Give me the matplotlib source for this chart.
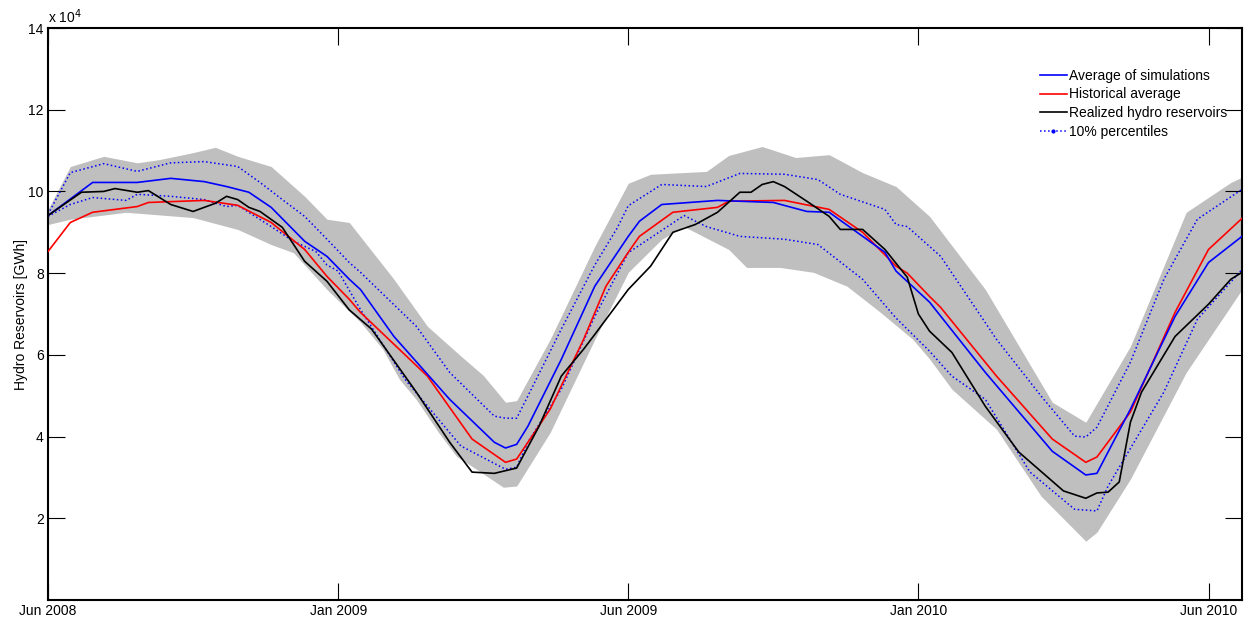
import matplotlib
matplotlib.use("Agg")
import matplotlib.pyplot as plt
from matplotlib.lines import Line2D
import numpy as np

plt.rcParams['font.family'] = ['Liberation Sans', 'DejaVu Sans']

# values in units of 1e4 GWh, x in weeks from Jun 2008
tick_weeks = [0, 26, 52, 78, 104]
tick_labels = ["Jun 2008", "Jan 2009", "Jun 2009", "Jan 2010", "Jun 2010"]

band_up_w = [0, 2, 5, 8, 10, 13, 15, 17, 20, 23, 25, 27, 31, 34, 37, 39, 41, 42, 45, 49, 52,
             54, 59, 61, 64, 67, 70, 73, 76, 79, 84, 90, 93, 97, 102, 106, 107]
band_up = [9.56, 10.61, 10.86, 10.7, 10.78, 10.95, 11.08, 10.86, 10.61, 9.88, 9.32, 9.24, 7.85,
           6.7, 5.97, 5.5, 4.84, 4.88, 6.38, 8.66, 10.2, 10.42, 10.49, 10.88, 11.1, 10.83, 10.9,
           10.46, 10.12, 9.39, 7.6, 4.84, 4.35, 6.21, 9.49, 10.22, 10.35]
band_lo_w = [0, 2, 7, 13, 17, 20, 22, 25, 28, 30, 31.5, 33, 35, 36.6, 38.4, 40.8, 42, 45, 49,
             52, 55, 57, 61, 62.6, 65.6, 68.6, 71.6, 74.6, 77.5, 79, 81, 85, 89, 93, 94, 97,
             102, 107]
band_lo = [9.19, 9.32, 9.49, 9.36, 9.07, 8.7, 8.5, 7.6, 6.8, 6.14, 5.4, 4.91, 4.1, 3.52, 3.2,
           2.76, 2.79, 4.1, 6.38, 8.02, 8.83, 9.14, 8.58, 8.14, 8.14, 8.02, 7.68, 7.04, 6.38,
           5.9, 5.16, 4.18, 2.54, 1.44, 1.66, 2.96, 5.57, 7.6]

avg_w = [0, 4, 8, 11, 14, 16, 18, 20, 23, 25, 27, 28, 31, 36, 40, 41, 42, 43, 46, 49, 52, 53,
         55, 60, 65, 68, 70, 75, 76, 79, 84, 90, 93, 94, 97, 101, 104, 107]
avg = [9.41, 10.22, 10.22, 10.32, 10.24, 10.12, 9.98, 9.61, 8.78, 8.41, 7.85, 7.6, 6.45, 4.91,
       3.86, 3.72, 3.81, 4.25, 5.89, 7.68, 8.9, 9.27, 9.68, 9.78, 9.73, 9.51, 9.49, 8.51, 8.05,
       7.29, 5.57, 3.64, 3.06, 3.1, 4.67, 6.94, 8.26, 8.9]

hist_w = [0, 2, 4, 8, 9, 14, 17, 20, 23, 25, 27, 28, 34, 38, 41, 42, 45, 48, 50, 52, 53, 56, 60,
          61, 66, 70, 73, 76, 77, 79, 80, 85, 90, 93, 94, 97, 101, 104, 107]
hist = [8.53, 9.24, 9.49, 9.63, 9.73, 9.78, 9.66, 9.24, 8.58, 7.92, 7.36, 7.04, 5.48, 3.94, 3.37,
        3.45, 4.67, 6.38, 7.68, 8.51, 8.9, 9.49, 9.61, 9.76, 9.78, 9.56, 9.0, 8.17, 8.0, 7.43,
        7.16, 5.48, 3.94, 3.37, 3.5, 4.6, 7.04, 8.58, 9.34]

real_w = [0, 3, 5, 6, 8, 9, 11, 13, 15, 16, 17, 18, 19, 21, 23, 25, 27, 29, 33, 36, 38, 40, 42,
          44, 46, 48, 49, 52, 54, 56, 58, 60, 62, 63, 64, 65, 66, 68, 70, 71, 73, 75, 77, 78, 79,
          81, 84, 87, 91, 93, 94, 95, 96, 97, 98, 101, 104, 106, 107]
real = [9.41, 9.98, 10.0, 10.07, 9.98, 10.02, 9.68, 9.51, 9.71, 9.88, 9.8, 9.61, 9.51, 9.12, 8.29,
        7.8, 7.1, 6.63, 5.09, 3.86, 3.13, 3.1, 3.23, 4.25, 5.48, 6.14, 6.5, 7.6, 8.17, 9.0, 9.19,
        9.49, 9.98, 9.98, 10.17, 10.24, 10.12, 9.76, 9.39, 9.07, 9.07, 8.58, 7.9, 7.0, 6.58, 6.06,
        4.74, 3.62, 2.67, 2.49, 2.62, 2.64, 2.89, 4.35, 5.09, 6.45, 7.24, 7.85, 8.02]

p_up_w = [0, 2, 5, 8, 11, 14, 17, 19, 21, 23, 25, 27, 28, 33, 36, 40, 41, 42, 43, 46, 49, 51, 52,
          55, 59, 62, 66, 69, 71, 75, 76, 77, 80, 85, 89, 92, 93, 94, 97, 100, 103, 107]
p_up = [9.44, 10.46, 10.68, 10.49, 10.7, 10.73, 10.61, 10.22, 9.8, 9.39, 8.83, 8.26, 8.02, 6.7,
        5.57, 4.5, 4.45, 4.45, 4.99, 6.63, 8.2, 9.1, 9.65, 10.17, 10.12, 10.44, 10.42, 10.29, 9.93,
        9.56, 9.19, 9.14, 8.41, 6.38, 4.99, 4.01, 3.99, 4.23, 5.82, 7.85, 9.32, 10.05]
p_lo_w = [0, 2, 4, 7, 8, 11, 14, 16, 17, 20, 22, 24, 25, 26, 28, 32, 37, 41, 42, 43, 46, 49, 52,
          57, 59, 62, 66, 69, 73, 76, 79, 81, 84, 88, 92, 94, 95, 100, 103, 107]
p_lo = [9.39, 9.68, 9.85, 9.78, 9.93, 9.88, 9.8, 9.63, 9.66, 9.14, 8.78, 8.53, 8.2, 8.05, 7.11,
        5.4, 3.77, 3.2, 3.25, 3.86, 5.16, 6.94, 8.5, 9.41, 9.14, 8.9, 8.83, 8.7, 7.85, 6.9, 6.09,
        5.48, 4.91, 3.13, 2.22, 2.18, 2.79, 5.09, 6.87, 8.09]

fig = plt.figure(figsize=(12.44, 6.2), dpi=100)
ax = fig.add_axes([48 / 1244, 20 / 620, 1194 / 1244, 572 / 620])

# envelope of all simulations
grid = np.array(sorted(set(band_up_w) | set(band_lo_w)), dtype=float)
ax.fill_between(grid, np.interp(grid, band_lo_w, band_lo), np.interp(grid, band_up_w, band_up),
                color='#bfbfbf', lw=0, zorder=1)

ax.plot(p_up_w, p_up, ':', color='#0000ff', lw=1.1, zorder=2)
ax.plot(p_lo_w, p_lo, ':', color='#0000ff', lw=1.1, zorder=2)
ax.plot(hist_w, hist, '-', color='#ff0000', lw=1.2, zorder=3)
ax.plot(avg_w, avg, '-', color='#0000ff', lw=1.2, zorder=4)
ax.plot(real_w, real, '-', color='black', lw=1.2, zorder=5)

ax.set_xlim(0, 107)
ax.set_ylim(0, 14)
ax.set_xticks(tick_weeks)
ax.set_xticklabels(tick_labels)
ax.set_yticks([2, 4, 6, 8, 10, 12, 14])
ax.tick_params(direction='in', length=12, width=0.8, labelsize=10, top=True, right=True,
               pad=3)
for s in ax.spines.values():
    s.set_linewidth(1.5)
ax.set_ylabel("Hydro Reservoirs [GWh]", fontsize=10, labelpad=0.5)
ax.text(0.0, 1.004, r"x 10$^{4}$", transform=ax.transAxes, fontsize=10, ha='left', va='bottom')

handles = [Line2D([], [], color='#0000ff', lw=1.2),
           Line2D([], [], color='#ff0000', lw=1.2),
           Line2D([], [], color='black', lw=1.2),
           Line2D([], [], color='#0000ff', lw=1.1, ls=':', marker='.', markersize=4)]
labels = ["Average of simulations", "Historical average", "Realized hydro reservoirs",
          "10% percentiles"]
ax.legend(handles, labels, loc='upper left', bbox_to_anchor=(0.831, 0.9285), frameon=False,
          fontsize=10, handlelength=1.9, handletextpad=0.2, labelspacing=0.33, borderpad=0,
          borderaxespad=0)

fig.savefig("out.png", dpi=100)
